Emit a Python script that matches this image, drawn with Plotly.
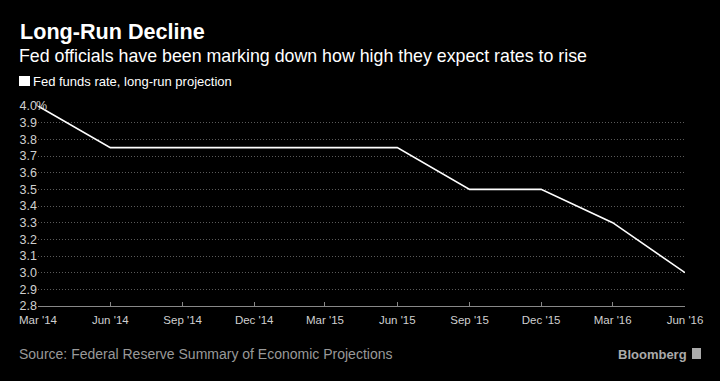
import plotly.graph_objects as go

dates = ["2014-03-01", "2014-06-01", "2014-09-01", "2014-12-01", "2015-03-01",
         "2015-06-01", "2015-09-01", "2015-12-01", "2016-03-01", "2016-06-01"]
values = [4.0, 3.75, 3.75, 3.75, 3.75, 3.75, 3.5, 3.5, 3.3, 3.0]
tick_labels = ["Mar '14", "Jun '14", "Sep '14", "Dec '14", "Mar '15",
               "Jun '15", "Sep '15", "Dec '15", "Mar '16", "Jun '16"]
y_ticks = [2.8, 2.9, 3.0, 3.1, 3.2, 3.3, 3.4, 3.5, 3.6, 3.7, 3.8, 3.9, 4.0]
y_tick_text = [f"{v:.1f}" for v in y_ticks]

W, H = 720, 381
L, R, T, B = 38, 685, 106, 306

def px(x):
    return (x - L) / (R - L)

def py(y):
    return (B - y) / (B - T)

fig = go.Figure()
fig.add_trace(go.Scatter(x=dates, y=values, mode="lines",
                         line=dict(color="#ffffff", width=1.6),
                         showlegend=False, hoverinfo="skip"))

xtickfont = dict(family="Liberation Sans Narrow, Liberation Sans, sans-serif", size=11.5, color="#d0d0d0")
ytickfont = dict(family="Liberation Sans Narrow, Liberation Sans, sans-serif", size=12.5, color="#d0d0d0")

fig.update_layout(
    width=W, height=H,
    paper_bgcolor="#000000", plot_bgcolor="#000000",
    margin=dict(l=L, r=W - R, t=T, b=H - B, pad=0),
    xaxis=dict(
        range=[dates[0], dates[-1]],
        tickvals=dates, ticktext=tick_labels,
        showgrid=False, zeroline=False,
        showline=True, linecolor="#888888", linewidth=1,
        ticks="inside", ticklen=4, tickcolor="#888888",
        tickfont=xtickfont, ticklabelstandoff=3,
    ),
    yaxis=dict(
        range=[2.8, 4.0],
        tickvals=y_ticks, ticktext=y_tick_text,
        showgrid=True, gridcolor="#5a5a5a", gridwidth=1, griddash="1px,2px",
        zeroline=False, showline=False, ticks="",
        tickfont=ytickfont,
    ),
    font=dict(family="Liberation Sans, sans-serif", color="#ffffff"),
)

ann = []
ann.append(dict(text="<b>Long-Run Decline</b>", x=px(18), y=py(31), xref="paper", yref="paper",
                xanchor="left", yanchor="middle", showarrow=False,
                font=dict(family="Liberation Sans, sans-serif", size=21.6, color="#ffffff")))
ann.append(dict(text="Fed officials have been marking down how high they expect rates to rise",
                x=px(17), y=py(56), xref="paper", yref="paper",
                xanchor="left", yanchor="middle", showarrow=False,
                font=dict(family="Liberation Sans, sans-serif", size=17.8, color="#ffffff")))
ann.append(dict(text="Fed funds rate, long-run projection",
                x=px(31), y=py(81), xref="paper", yref="paper",
                xanchor="left", yanchor="middle", showarrow=False,
                font=dict(family="Liberation Sans Narrow, Liberation Sans, sans-serif", size=13, color="#ffffff")))
ann.append(dict(text="%", x=px(34), y=py(106), xref="paper", yref="paper",
                xanchor="left", yanchor="middle", showarrow=False,
                font=ytickfont))
ann.append(dict(text="Source: Federal Reserve Summary of Economic Projections",
                x=px(17), y=py(354), xref="paper", yref="paper",
                xanchor="left", yanchor="middle", showarrow=False,
                font=dict(family="Liberation Sans Narrow, Liberation Sans, sans-serif", size=14, color="#999999")))
ann.append(dict(text="<b>Bloomberg</b>", x=px(689), y=py(354), xref="paper", yref="paper",
                xanchor="right", yanchor="middle", showarrow=False,
                font=dict(family="Liberation Sans Narrow, Liberation Sans, sans-serif", size=13, color="#aaaaaa")))
fig.update_layout(annotations=ann)

fig.add_shape(type="rect", xref="paper", yref="paper",
              x0=px(19), x1=px(30), y0=py(86), y1=py(76),
              fillcolor="#ffffff", line=dict(width=0))
fig.add_shape(type="rect", xref="paper", yref="paper",
              x0=px(692), x1=px(701), y0=py(359), y1=py(348),
              fillcolor="#aaaaaa", line=dict(width=0))

fig.write_html("out.html", config={"displayModeBar": False},
               post_script="document.body.style.margin='0';document.body.style.background='#000';")
